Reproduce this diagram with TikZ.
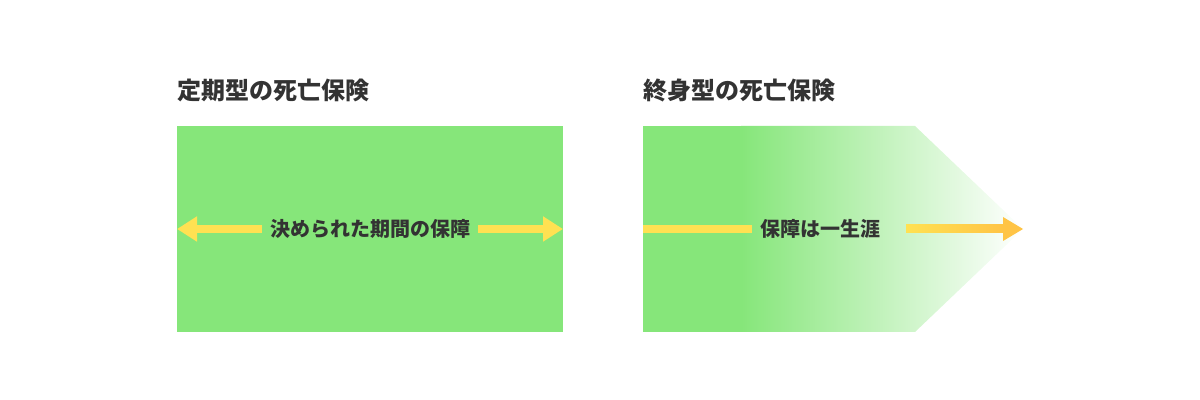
\documentclass[tikz,border=0pt]{standalone}
\usepackage{fontspec}
\setmainfont{Noto Sans CJK JP}
\usetikzlibrary{arrows.meta}
\definecolor{leafgreen}{HTML}{86E67A}
\definecolor{gold}{HTML}{FFE152}
\definecolor{amber}{HTML}{FFC445}
\definecolor{ink}{HTML}{333333}

\begin{document}
\begin{tikzpicture}[x=0.5pt, y=-0.5pt,
  title/.style={anchor=west, font=\fontsize{12}{12}\selectfont\bfseries, text=ink, inner sep=0pt},
  label/.style={font=\fontsize{10}{10}\selectfont\bfseries, text=ink, inner sep=4pt},
  band/.style={line width=4pt, draw=gold, -{Triangle[length=10pt, width=12pt]}}]
  \useasboundingbox (0, 0) rectangle (1200, 400);

  % Term insurance
  \node[title] (termtitle) at (177, 90) {定期型の死亡保険};
  \fill[leafgreen] (177, 126) rectangle (563, 332);
  \coordinate (termleft) at (177, 229);
  \coordinate (termright) at (563, 229);
  \node[label] (termtext) at (370, 229) {決められた期間の保障};
  \draw[band] (termtext.west) -- (termleft);
  \draw[band] (termtext.east) -- (termright);

  % Whole life insurance
  \node[title] (lifetitle) at (643, 90) {終身型の死亡保険};
  \begin{scope}
    \clip (643, 126) -- (915, 126) -- (1023, 229) -- (915, 332) -- (643, 332) -- cycle;
    \fill[leafgreen] (643, 126) rectangle (742, 332);
    \shade[left color=leafgreen, right color=white] (741, 126) rectangle (1023, 332);
  \end{scope}
  \coordinate (lifeleft) at (643, 229);
  \coordinate (lifetip) at (1023, 229);
  \node[label] (lifetext) at (820, 229) {保障は一生涯};
  \draw[line width=4pt, draw=gold] (lifetext.west) -- (lifeleft);
  \shade[left color=gold, right color=amber] (906, 225) rectangle (1004, 233);
  \fill[amber] (1003, 217) -- (lifetip) -- (1003, 241) -- cycle;
\end{tikzpicture}
\end{document}
